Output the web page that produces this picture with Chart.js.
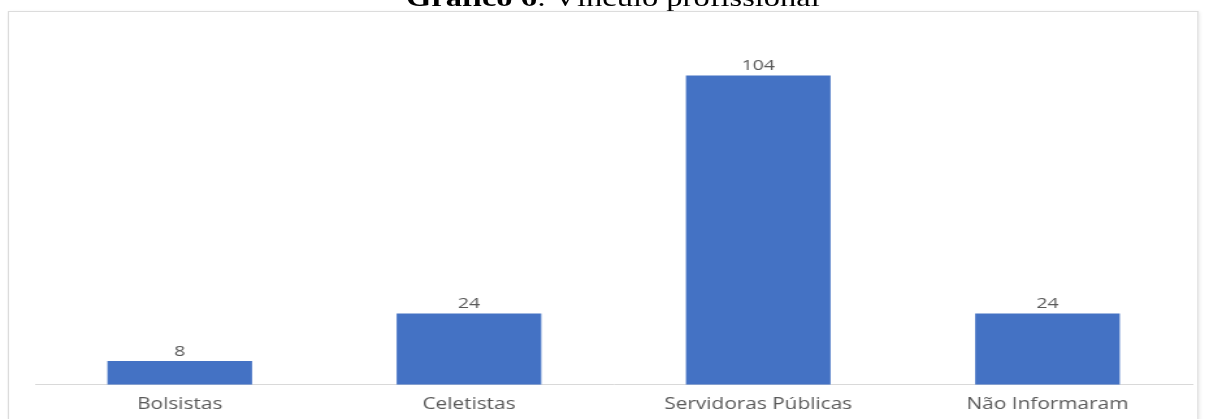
<!DOCTYPE html>
<html>
<head>
<meta charset="utf-8">
<script src="https://cdn.jsdelivr.net/npm/chart.js@4/dist/chart.umd.min.js"></script>
<style>
  html, body { margin: 0; padding: 0; background: #fff; overflow: hidden; }
  #wrap { position: absolute; left: 0; top: 0; width: 927px; height: 430px; transform: scaleX(1.3); transform-origin: 0 0; }
  #box { position: absolute; left: 6px; top: 11px; width: 914px; height: 420px; border: 1px solid #dcdcdc; box-shadow: 1px 1px 3px rgba(0,0,0,0.08); }
  #title { position: absolute; left: 8px; width: 927px; top: -16px; text-align: center; font-family: "Liberation Serif", "Times New Roman", serif; font-size: 25px; color: #000; white-space: nowrap; }
  #title b { font-weight: bold; }
  canvas { position: absolute; left: 0; top: 0; }
</style>
</head>
<body>
<div id="wrap">
  <div id="box"></div>
  <div id="title"><b>Gráfico 6</b>: Vínculo profissional</div>
  <canvas id="chart" width="927" height="430"></canvas>
</div>
<script>
const categories = ['Bolsistas', 'Celetistas', 'Servidoras Públicas', 'Não Informaram'];
const values = [8, 24, 104, 24];

// value labels above each bar
const valueLabels = {
  id: 'valueLabels',
  afterDatasetsDraw(chart) {
    const ctx = chart.ctx;
    const meta = chart.getDatasetMeta(0);
    ctx.save();
    ctx.fillStyle = '#595959';
    ctx.font = '15px "Open Sans", sans-serif';
    ctx.textAlign = 'center';
    ctx.textBaseline = 'bottom';
    meta.data.forEach((bar, i) => {
      ctx.fillText(values[i], bar.x, bar.y - 2);
    });
    ctx.restore();
  }
};

new Chart(document.getElementById('chart'), {
  type: 'bar',
  data: {
    labels: categories,
    datasets: [{
      data: values,
      backgroundColor: '#4472C4',
      categoryPercentage: 1,
      barPercentage: 0.5
    }]
  },
  options: {
    responsive: false,
    animation: false,
    layout: { padding: { left: 27, right: 10, top: 28, bottom: 6 } },
    plugins: { legend: { display: false }, tooltip: { enabled: false } },
    scales: {
      x: {
        grid: { display: false, drawTicks: false },
        border: { display: true, color: '#d9d9d9', width: 1 },
        ticks: { color: '#595959', font: { family: '"Open Sans", sans-serif', size: 16 }, padding: 10, maxRotation: 0 }
      },
      y: {
        display: false,
        min: 0,
        max: 120
      }
    }
  },
  plugins: [valueLabels]
});
</script>
</body>
</html>
